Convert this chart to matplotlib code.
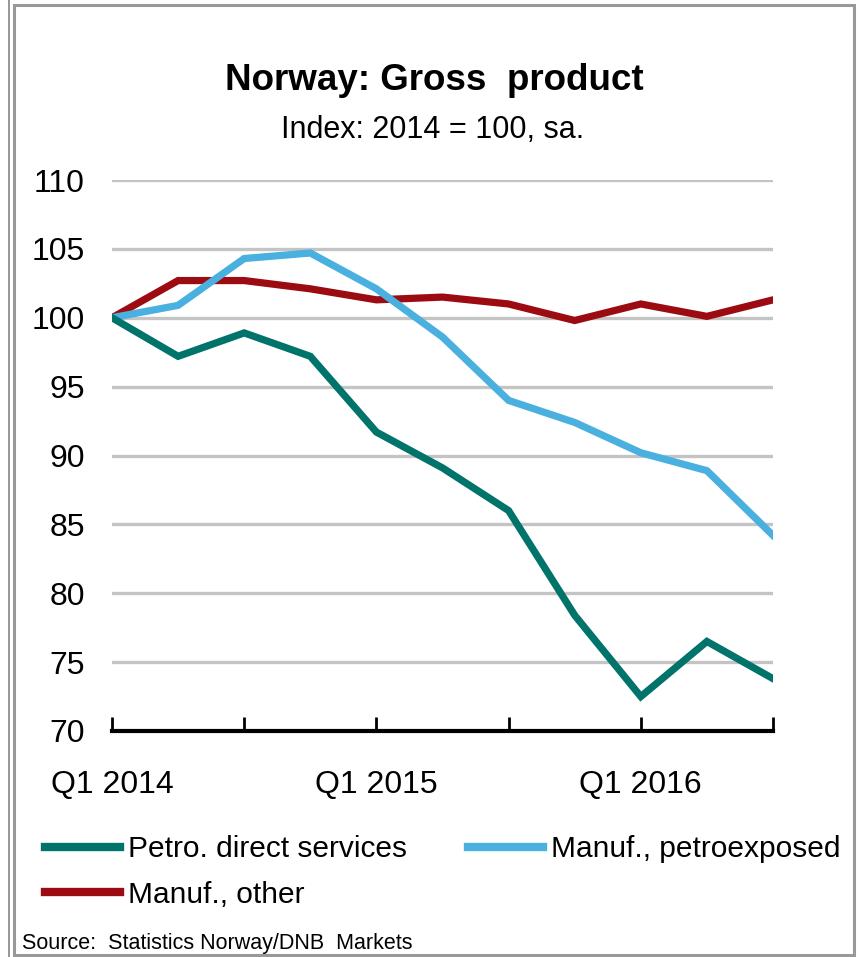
import matplotlib.pyplot as plt
from matplotlib.patches import Rectangle
from matplotlib.lines import Line2D

plt.rcParams['font.family'] = ['Liberation Sans', 'DejaVu Sans']

# Kvartaler Q1 2014 - Q3 2016
quarters = ['Q1 2014', 'Q2 2014', 'Q3 2014', 'Q4 2014',
            'Q1 2015', 'Q2 2015', 'Q3 2015', 'Q4 2015',
            'Q1 2016', 'Q2 2016', 'Q3 2016']
petro_direct = [100.0, 97.2, 98.9, 97.2, 91.7, 89.1, 86.0, 78.4, 72.5, 76.5, 73.8]
manuf_petro = [100.0, 100.9, 104.3, 104.7, 102.1, 98.6, 94.0, 92.4, 90.2, 88.9, 84.2]
manuf_other = [100.0, 102.7, 102.7, 102.1, 101.3, 101.5, 101.0, 99.8, 101.0, 100.1, 101.3]

series_names = ['Petro. direct services', 'Manuf., petroexposed', 'Manuf., other']
colors = ['#00736b', '#49b0df', '#9d0b12']

x_labels = ['Q1 2014', 'Q1 2015', 'Q1 2016']
y_ticks = [70, 75, 80, 85, 90, 95, 100, 105, 110]

W, H = 861, 957
fig = plt.figure(figsize=(W / 100, H / 100), dpi=100)

# ramme rundt figuren
fig.patches.append(Rectangle((8 / W, 0), 1.5 / W, 1, transform=fig.transFigure,
                             facecolor='#999999', edgecolor='none'))
fig.patches.append(Rectangle((13.5 / W, 1 - 955 / H), (854 - 13.5) / W, (955 - 5) / H,
                             transform=fig.transFigure, fill=False,
                             edgecolor='#999999', linewidth=2.2))

ax = fig.add_axes([112 / W, 1 - 731 / H, 661 / W, 551 / H])
x = list(range(len(quarters)))
ax.plot(x, manuf_other, color=colors[2], lw=5.2, solid_joinstyle='miter', zorder=3)
ax.plot(x, manuf_petro, color=colors[1], lw=5.2, solid_joinstyle='miter', zorder=4)
ax.plot(x, petro_direct, color=colors[0], lw=5.2, solid_joinstyle='miter', zorder=5)

ax.set_xlim(0, len(quarters) - 1)
ax.set_ylim(70, 110)
ax.set_yticks(y_ticks)
ax.set_yticklabels([str(v) for v in y_ticks], fontsize=23)
ax.set_xticks(range(0, len(quarters), 2))
ax.set_xticklabels([quarters[i] if quarters[i] in x_labels else '' for i in range(0, len(quarters), 2)],
                   fontsize=23)
ax.tick_params(axis='y', length=0, pad=19.5)
ax.tick_params(axis='x', direction='in', length=10, width=2, pad=28)
ax.grid(axis='y', color='#c4c4c4', lw=2.4)
ax.set_axisbelow(True)
for s in ['top', 'right', 'left']:
    ax.spines[s].set_visible(False)
ax.spines['bottom'].set_linewidth(3)

fig.text(434 / W, 1 - 80 / H, 'Norway: Gross  product', ha='center', va='center',
         fontsize=26.5, fontweight='bold')
fig.text(433 / W, 1 - 130 / H, 'Index: 2014 = 100, sa.', ha='center', va='center', fontsize=22)

# rekkefølge slik at ncol=2 gir Petro/Manuf.petro øverst, Manuf.other under
order = [0, 2, 1]
handles = [Line2D([0], [0], color=colors[i], lw=6) for i in order]
labels = [series_names[i] for i in order]
fig.legend(handles, labels, loc='upper left', bbox_to_anchor=(45 / W, 1 - 835 / H),
           ncol=2, frameon=False, fontsize=21.5, handlelength=2.5, handletextpad=0.27,
           columnspacing=2.05, labelspacing=0.6, borderpad=0, borderaxespad=0)

fig.text(22 / W, 1 - 943 / H, 'Source:  Statistics Norway/DNB  Markets', ha='left', va='center',
         fontsize=15.5)

fig.savefig('out.png', dpi=100)
